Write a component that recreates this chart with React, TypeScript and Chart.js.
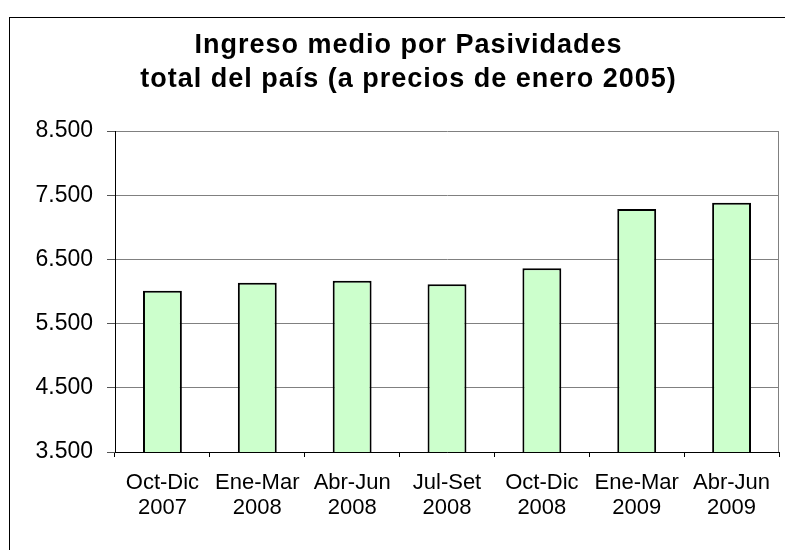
import React, { useEffect, useRef } from "react";
import { Chart, registerables } from "chart.js";

Chart.register(...registerables);

const titleLines = ["Ingreso medio por Pasividades", "total del país (a precios de enero 2005)"];
const periods = ["Oct-Dic", "Ene-Mar", "Abr-Jun", "Jul-Set", "Oct-Dic", "Ene-Mar", "Abr-Jun"];
const years = ["2007", "2008", "2008", "2008", "2008", "2009", "2009"];
const ingresoMedio = [6010, 6137, 6168, 6112, 6361, 7285, 7383];
const yMin = 3500;
const yMax = 8500;
const yStep = 1000;

const FONT = "'Liberation Sans', Arial, sans-serif";

const framePlugin = {
  id: "frame",
  beforeDraw(chart: any) {
    const ctx = chart.ctx;
    ctx.save();
    ctx.strokeStyle = "#000";
    ctx.lineWidth = 1;
    ctx.strokeRect(9.5, 17.5, 900, 700);
    ctx.restore();
    // wider tracking for the title (drawn before datasets)
    ctx.letterSpacing = "1px";
  },
  afterDatasetsDraw(chart: any) {
    const { ctx, chartArea } = chart;
    ctx.letterSpacing = "0px";
    ctx.save();
    ctx.strokeStyle = "#808080";
    ctx.lineWidth = 1;
    const x = Math.round(chartArea.right) - 0.5;
    ctx.beginPath();
    ctx.moveTo(x, chartArea.top);
    ctx.lineTo(x, chartArea.bottom);
    ctx.stroke();
    ctx.restore();
  },
};

export default function App() {
  const ref = useRef<HTMLCanvasElement | null>(null);
  useEffect(() => {
    if (!ref.current) return;
    const labels = periods.map((p, i) => [p, years[i]]);
    const chart = new Chart(ref.current, {
      type: "bar",
      data: {
        labels,
        datasets: [
          {
            data: ingresoMedio,
            backgroundColor: "#CCFFCC",
            borderColor: "#000000",
            borderWidth: 2,
            barPercentage: 0.41,
            categoryPercentage: 1,
          },
        ],
      },
      options: {
        animation: false,
        responsive: false,
        layout: { padding: { left: 32, right: 0, top: 0, bottom: 0 } },
        plugins: {
          legend: { display: false },
          tooltip: { enabled: false },
          title: {
            display: true,
            text: titleLines,
            color: "#000",
            font: { family: FONT, size: 27, weight: "bold", lineHeight: 1.25 },
            padding: { top: 29, bottom: 34.5 },
          },
        },
        scales: {
          x: {
            afterFit(scale: any) {
              scale.height = 98;
            },
            grid: {
              display: true,
              drawOnChartArea: false,
              drawTicks: true,
              tickLength: 5,
              color: "#000",
              offset: true,
            },
            border: { display: true, color: "#000", width: 1 },
            ticks: {
              z: 1,
              color: "#000",
              font: { family: FONT, size: 22, lineHeight: 1.15 },
              padding: 13,
              maxRotation: 0,
              autoSkip: false,
            },
          },
          y: {
            min: yMin,
            max: yMax,
            afterFit(scale: any) {
              scale.width = 83;
            },
            ticks: {
              z: 1,
              stepSize: yStep,
              color: "#000",
              padding: 14,
              font: { family: FONT, size: 23 },
              callback: (v: any) => Number(v).toLocaleString("de-DE"),
            },
            grid: {
              color: "#808080",
              tickLength: 8,
              tickColor: "#555",
              lineWidth: 1,
            },
            border: { display: true, color: "#000", width: 1 },
          },
          yRight: {
            position: "right",
            display: true,
            min: yMin,
            max: yMax,
            afterFit(scale: any) {
              scale.width = 6;
            },
            grid: { display: false, drawTicks: false },
            border: { display: false },
            ticks: { display: false },
          },
        },
      },
      plugins: [framePlugin],
    });
    return () => chart.destroy();
  }, []);
  return (
    <div style={{ position: "fixed", left: 0, top: 0, width: 785, height: 550, background: "#fff" }}>
      <canvas ref={ref} width={785} height={550} style={{ display: "block" }} />
    </div>
  );
}
